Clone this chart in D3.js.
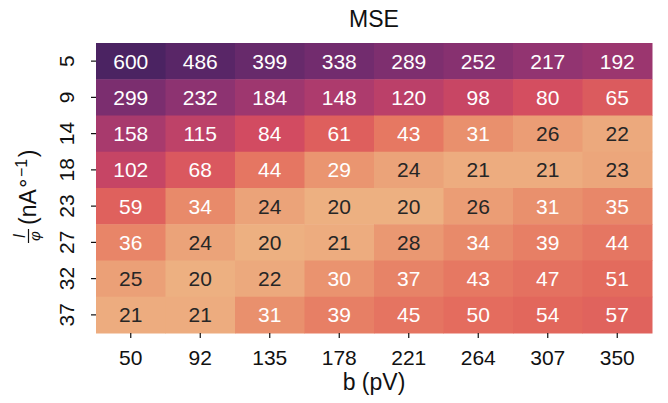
<!DOCTYPE html>
<html>
<head>
<meta charset="utf-8">
<script src="https://cdn.jsdelivr.net/npm/d3@7"></script>
<style>
  html, body { margin: 0; padding: 0; background: #fff; }
  text { font-family: "Liberation Sans", Arial, sans-serif; }
</style>
</head>
<body>
<svg id="chart" width="668" height="403"></svg>
<script>
// MSE heatmap: rows = I/phi, cols = b (pV), log-normed flare colours
const xLabels = ["50", "92", "135", "178", "221", "264", "307", "350"];
const yLabels = ["5", "9", "14", "18", "23", "27", "32", "37"];
const mse = [
  [600, 486, 399, 338, 289, 252, 217, 192],
  [299, 232, 184, 148, 120, 98, 80, 65],
  [158, 115, 84, 61, 43, 31, 26, 22],
  [102, 68, 44, 29, 24, 21, 21, 23],
  [59, 34, 24, 20, 20, 26, 31, 35],
  [36, 24, 20, 21, 28, 34, 39, 44],
  [25, 20, 22, 30, 37, 43, 47, 51],
  [21, 21, 31, 39, 45, 50, 54, 57]
];
const flareStops = ["#EDB081", "#E98D6B", "#E3685C", "#D14A61", "#B13C6C", "#8F3371", "#6C2B6D", "#4B2362"];

const svg = d3.select("#chart");
const m = { left: 96, top: 43, right: 16, bottom: 70 };
const W = 668, H = 403;
const iw = W - m.left - m.right, ih = H - m.top - m.bottom;
const fs = 21;      // ticks + annotations
const fsLab = 23;   // title + axis labels
const ink = "#111";

const x = d3.scaleBand().domain(xLabels).range([0, iw]);
const y = d3.scaleBand().domain(yLabels).range([0, ih]);
const flat = mse.flat();
const norm = d3.scaleLog().domain([d3.min(flat), d3.max(flat)]).range([0, 1]).clamp(true);
const interp = d3.piecewise(d3.interpolateRgb, flareStops);
const colorOf = v => interp(norm(v));

function lum(c) {
  const rgb = d3.rgb(c);
  const f = u => { u /= 255; return u <= 0.03928 ? u / 12.92 : Math.pow((u + 0.055) / 1.055, 2.4); };
  return 0.2126 * f(rgb.r) + 0.7152 * f(rgb.g) + 0.0722 * f(rgb.b);
}

const g = svg.append("g").attr("transform", `translate(${m.left},${m.top})`);

const cells = [];
mse.forEach((row, i) => row.forEach((v, j) => cells.push({ r: yLabels[i], c: xLabels[j], v })));

g.selectAll("rect.cell").data(cells).join("rect")
  .attr("class", "cell")
  .attr("x", d => x(d.c)).attr("y", d => y(d.r))
  .attr("width", x.bandwidth() + 0.5).attr("height", y.bandwidth() + 0.5)
  .attr("fill", d => colorOf(d.v));

g.selectAll("text.ann").data(cells).join("text")
  .attr("class", "ann")
  .attr("x", d => x(d.c) + x.bandwidth() / 2)
  .attr("y", d => y(d.r) + y.bandwidth() / 2)
  .attr("dy", "0.36em")
  .attr("text-anchor", "middle")
  .attr("font-size", fs)
  .attr("fill", d => lum(colorOf(d.v)) > 0.408 ? "#262626" : "#ffffff")
  .text(d => d.v);

// axes
const gx = g.append("g").attr("transform", `translate(0,${ih})`)
  .call(d3.axisBottom(x).tickSize(5).tickPadding(12));
gx.select(".domain").remove();
gx.selectAll("line").attr("stroke", ink).attr("stroke-width", 1.2);
gx.selectAll("text").attr("font-size", fs).attr("fill", ink).attr("font-family", null);

const gy = g.append("g").call(d3.axisLeft(y).tickSize(5).tickPadding(0));
gy.select(".domain").remove();
gy.selectAll("line").attr("stroke", ink).attr("stroke-width", 1.2);
gy.selectAll("text")
  .attr("font-size", fs).attr("fill", ink).attr("font-family", null)
  .attr("x", null).attr("dy", null)
  .attr("text-anchor", "middle")
  .attr("transform", "translate(-22.5,0) rotate(-90)");

// title
svg.append("text").attr("x", m.left + iw / 2).attr("y", 27)
  .attr("text-anchor", "middle").attr("font-size", fsLab).attr("fill", ink).text("MSE");

// x label
svg.append("text").attr("x", m.left + iw / 2).attr("y", 390)
  .attr("text-anchor", "middle").attr("font-size", fsLab).attr("fill", ink).text("b (pV)");

// y label with fraction I / phi
const yl = svg.append("g").attr("transform", `translate(36,${m.top + ih / 2 + 2}) rotate(-90)`);
const frac = yl.append("g").attr("transform", "translate(-46,0)");
frac.append("text").attr("x", 0).attr("y", -11).attr("text-anchor", "middle")
  .attr("font-size", 16).attr("font-style", "italic").attr("fill", ink).text("I");
frac.append("line").attr("x1", -7).attr("x2", 7).attr("y1", -7.5).attr("y2", -7.5)
  .attr("stroke", ink).attr("stroke-width", 1.2);
frac.append("text").attr("x", 0).attr("y", 4).attr("text-anchor", "middle")
  .attr("font-size", 15).attr("font-style", "italic").attr("fill", ink)
  .attr("font-family", "'DejaVu Sans', sans-serif").text("φ");
const lab = yl.append("text").attr("x", -35).attr("y", 0).attr("font-size", fsLab).attr("fill", ink);
lab.append("tspan").text("(nA");
lab.append("tspan").attr("dx", 1.5).text("°");
lab.append("tspan").attr("dx", 1.5).attr("dy", -9).attr("font-size", 16).text("−1");
lab.append("tspan").attr("dx", 1.5).attr("dy", 9).text(")");
</script>
</body>
</html>
